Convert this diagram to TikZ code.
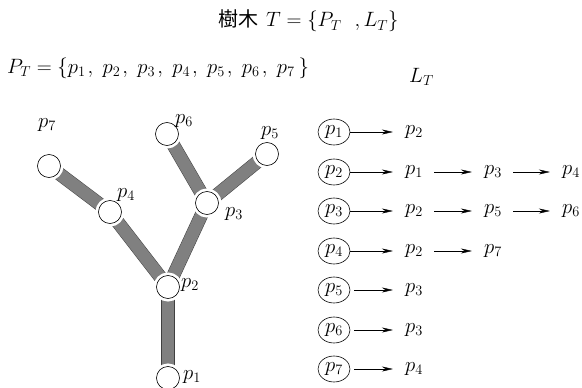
\documentclass[tikz,border=0pt]{standalone}
\usepackage{fontspec}
\newfontfamily\cjk{Noto Sans CJK JP}
\usetikzlibrary{arrows.meta, positioning, shapes.geometric, backgrounds}

\begin{document}
\begin{tikzpicture}[
    x=1pt, y=-1pt,
    font=\fontsize{20}{24}\selectfont,
    tnode/.style={circle, draw, semithick, fill=white, minimum size=23pt, inner sep=0pt,
      preaction={draw=white, line width=6pt}},
    tlabel/.style={inner sep=0pt},
    band/.style={line width=12.5pt, draw=black!50,
      preaction={draw=black!75, line width=13.5pt}},
    lhead/.style={ellipse, draw, semithick, minimum width=32pt, minimum height=26pt, inner sep=0pt},
    litem/.style={inner sep=0pt},
    link/.style={-{Stealth[length=11pt, width=5pt]}, shorten >=12pt},
    nextlink/.style={link, shorten <=11pt},
    plain/.style={anchor=base west, inner sep=0pt}
  ]
  \useasboundingbox (0,0) rectangle (582,388);

  % headings
  \node[plain] (title) at (218,27) {{\cjk 樹木}\hspace{8pt}$T=\{P_T\hspace{13pt},L_T\}$};
  \node[plain] (pset) at (7,73) {$P_T=\{p_1\hspace{2pt},\hspace{6pt}p_2\hspace{2pt},\hspace{6pt}p_3\hspace{2pt},\hspace{6pt}p_4\hspace{2pt},\hspace{6pt}p_5\hspace{2pt},\hspace{6pt}p_6\hspace{2pt},\hspace{6pt}p_7\hspace{4pt}\}$};
  \node[plain] (lset) at (409,82) {$L_T$};

  % tree
  \node[tnode] (p1) at (168,378) {};
  \node[tnode] (p2) at (168,287) {};
  \node[tnode] (p3) at (207,203) {};
  \node[tnode] (p4) at (110,212) {};
  \node[tnode] (p5) at (267,154) {};
  \node[tnode] (p6) at (167,134) {};
  \node[tnode] (p7) at (49,166) {};

  \node[tlabel] (l1) at (192,377) {$p_1$};
  \node[tlabel] (l2) at (190,285) {$p_2$};
  \node[tlabel] (l3) at (234,214) {$p_3$};
  \node[tlabel] (l4) at (126,195) {$p_4$};
  \node[tlabel] (l5) at (270,133) {$p_5$};
  \node[tlabel] (l6) at (184,121) {$p_6$};
  \node[tlabel] (l7) at (47,125) {$p_7$};

  \begin{scope}[on background layer]
    \draw[band] (p1) -- (p2);
    \draw[band] (p2) -- (p3);
    \draw[band] (p2) -- (p4);
    \draw[band] (p4) -- (p7);
    \draw[band] (p3) -- (p6);
    \draw[band] (p3) -- (p5);
  \end{scope}

  % adjacency lists
  \node[lhead] (h1) at (334,132) {$p_1$};
  \node[lhead] (h2) at (334,172) {$p_2$};
  \node[lhead] (h3) at (334,211) {$p_3$};
  \node[lhead] (h4) at (334,251) {$p_4$};
  \node[lhead] (h5) at (334,290) {$p_5$};
  \node[lhead] (h6) at (334,330) {$p_6$};
  \node[lhead] (h7) at (334,369) {$p_7$};

  \node[litem] (a1) at (414,132) {$p_2$};
  \node[litem] (a2) at (414,172) {$p_1$};
  \node[litem] (b2) at (493,172) {$p_3$};
  \node[litem] (c2) at (571,172) {$p_4$};
  \node[litem] (a3) at (414,211) {$p_2$};
  \node[litem] (b3) at (493,211) {$p_5$};
  \node[litem] (c3) at (571,211) {$p_6$};
  \node[litem] (a4) at (414,251) {$p_2$};
  \node[litem] (b4) at (493,251) {$p_7$};
  \node[litem] (a5) at (414,290) {$p_3$};
  \node[litem] (a6) at (414,330) {$p_3$};
  \node[litem] (a7) at (414,369) {$p_4$};

  \draw[link] (h1) -- (a1);
  \draw[link] (h2) -- (a2);
  \draw[nextlink] (a2) -- (b2);
  \draw[nextlink] (b2) -- (c2);
  \draw[link] (h3) -- (a3);
  \draw[nextlink] (a3) -- (b3);
  \draw[nextlink] (b3) -- (c3);
  \draw[link] (h4) -- (a4);
  \draw[nextlink] (a4) -- (b4);
  \draw[link, shorten <=4pt] (h5) -- (a5);
  \draw[link, shorten <=4pt] (h6) -- (a6);
  \draw[link, shorten <=4pt] (h7) -- (a7);
\end{tikzpicture}
\end{document}
